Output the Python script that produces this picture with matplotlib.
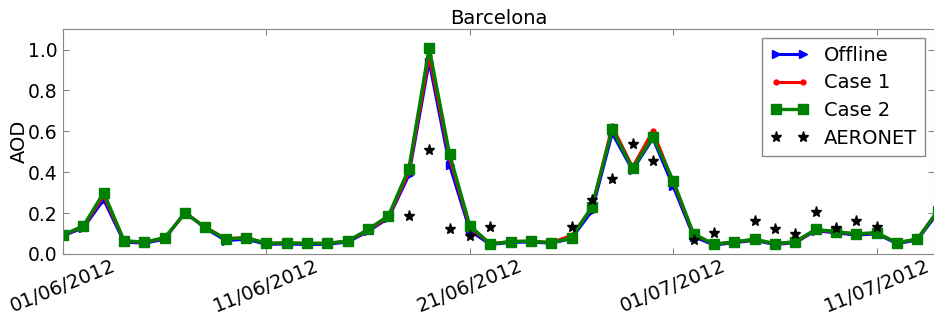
import numpy as np
import pandas as pd
import matplotlib
matplotlib.use("Agg")
import matplotlib.pyplot as plt
import matplotlib.dates as mdates

# ── Data (daily AOD, Barcelona) ───────────────────────────────────────────────
dates = pd.date_range("2012-06-01", periods=44, freq="D")

offline = [0.088, 0.128, 0.265, 0.058, 0.052, 0.072, 0.205, 0.125, 0.065, 0.072,
           0.047, 0.048, 0.046, 0.047, 0.058, 0.110, 0.175, 0.385, 0.940, 0.435,
           0.114, 0.046, 0.056, 0.058, 0.052, 0.075, 0.210, 0.590, 0.410, 0.565,
           0.330, 0.085, 0.043, 0.055, 0.066, 0.046, 0.055, 0.113, 0.103, 0.092,
           0.098, 0.050, 0.068, 0.200]
case1 = [0.092, 0.133, 0.285, 0.063, 0.056, 0.078, 0.200, 0.130, 0.075, 0.080,
         0.052, 0.053, 0.051, 0.052, 0.062, 0.115, 0.180, 0.400, 0.970, 0.470,
         0.128, 0.050, 0.060, 0.062, 0.056, 0.090, 0.225, 0.625, 0.425, 0.602,
         0.350, 0.095, 0.048, 0.058, 0.070, 0.050, 0.058, 0.117, 0.108, 0.097,
         0.102, 0.055, 0.072, 0.210]
case2 = [0.093, 0.137, 0.300, 0.065, 0.057, 0.080, 0.199, 0.130, 0.072, 0.080,
         0.052, 0.054, 0.052, 0.052, 0.063, 0.120, 0.187, 0.417, 1.008, 0.490,
         0.138, 0.049, 0.060, 0.063, 0.054, 0.078, 0.231, 0.609, 0.418, 0.573,
         0.358, 0.098, 0.047, 0.059, 0.072, 0.050, 0.060, 0.120, 0.109, 0.098,
         0.104, 0.054, 0.073, 0.210]

aer_dates = pd.to_datetime(["2012-06-18", "2012-06-19", "2012-06-20", "2012-06-21",
                            "2012-06-22", "2012-06-26", "2012-06-27", "2012-06-28",
                            "2012-06-29", "2012-06-30", "2012-07-02", "2012-07-03",
                            "2012-07-05", "2012-07-06", "2012-07-07", "2012-07-08",
                            "2012-07-09", "2012-07-10", "2012-07-11"])
aeronet = [0.186, 0.508, 0.124, 0.089, 0.133, 0.133, 0.264, 0.368, 0.540, 0.454,
           0.068, 0.104, 0.161, 0.120, 0.096, 0.205, 0.125, 0.161, 0.133]

tick_dates = pd.to_datetime(["2012-06-01", "2012-06-11", "2012-06-21",
                             "2012-07-01", "2012-07-11"])

# ── Figure ────────────────────────────────────────────────────────────────────
GREY = "#888888"
fig = plt.figure(figsize=(9.34, 3.15), dpi=100, facecolor="white")
ax = fig.add_axes([0.0675, 0.194, 0.9325, 0.7135])

ax.plot(dates, offline, color="blue", lw=2.2, marker=">", ms=6, mec="blue",
        label="Offline")
ax.plot(dates, case1, color="red", lw=2.2, marker=".", ms=7, mec="red",
        label="Case 1")
ax.plot(dates, case2, color="green", lw=2.4, marker="s", ms=7, mec="green",
        label="Case 2")
ax.plot(aer_dates, aeronet, ls="none", color="black", marker="*", ms=8,
        label="AERONET")

ax.set_xlim(pd.Timestamp("2012-06-01"),
            pd.Timestamp("2012-06-01") + pd.Timedelta(days=42.82))
ax.set_ylim(0, 1.1)
ax.set_yticks([0.0, 0.2, 0.4, 0.6, 0.8, 1.0])
ax.set_xticks(tick_dates)
ax.xaxis.set_major_formatter(mdates.DateFormatter("%d/%m/%Y"))

ax.tick_params(direction="in", top=True, right=True, color=GREY, length=4)
ax.tick_params(axis="y", labelsize=13.5, pad=4)
ax.tick_params(axis="x", labelsize=14, pad=2)
plt.setp(ax.get_xticklabels(), rotation=22, ha="center")
for sp in ax.spines.values():
    sp.set_color(GREY)

ax.set_ylabel("AOD", fontsize=14, labelpad=-1)
ax.set_title("Barcelona", fontsize=14, pad=4)

leg = ax.legend(loc="upper right", fontsize=14, numpoints=2, fancybox=False,
                framealpha=1, borderaxespad=0.45, handlelength=2.0,
                labelspacing=0.45)
leg.get_frame().set_edgecolor(GREY)

plt.savefig("out.png", dpi=100, facecolor="white")
